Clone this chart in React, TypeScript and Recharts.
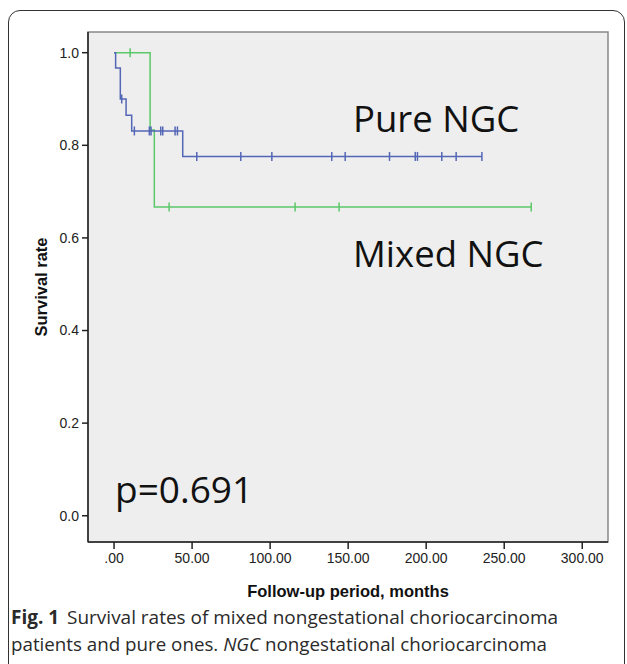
import { ComposedChart, Line, Scatter, XAxis, YAxis, ReferenceArea } from 'recharts';

// Kaplan-Meier steps (months, survival)
const pureTimes = [0, 1, 4, 7.7, 11.3, 44, 235.7];
const pureRates = [1.0, 0.967, 0.9, 0.865, 0.831, 0.776, 0.776];
const pureCensorTimes = [4.9, 13, 22.6, 23.7, 29.9, 31.2, 39.1, 40.6, 53, 81.2, 101.1, 139.5, 148.1, 176.5, 193, 194.4, 210, 219.2, 235.7];
const pureCensorRates = [0.9, 0.831, 0.831, 0.831, 0.831, 0.831, 0.831, 0.831, 0.776, 0.776, 0.776, 0.776, 0.776, 0.776, 0.776, 0.776, 0.776, 0.776, 0.776];

const mixedTimes = [0, 23.1, 25.8, 267.3];
const mixedRates = [1.0, 0.833, 0.667, 0.667];
const mixedCensorTimes = [10.3, 35.3, 116, 144.2, 267.3];
const mixedCensorRates = [1.0, 0.667, 0.667, 0.667, 0.667];

const xTicks = [0, 50, 100, 150, 200, 250, 300];
const yTicks = [0, 0.2, 0.4, 0.6, 0.8, 1.0];

const xDomain = [-16.7, 316.5];
const yDomain = [-0.0567, 1.0447];

const BLUE = '#5466b6';
const GREEN = '#5cc868';

const zip = (ts: number[], rs: number[]) => ts.map((t, i) => ({ t, s: rs[i] }));

const pureData = zip(pureTimes, pureRates);
const pureCensor = zip(pureCensorTimes, pureCensorRates);
const mixedData = zip(mixedTimes, mixedRates);
const mixedCensor = zip(mixedCensorTimes, mixedCensorRates);

const censorMark = (color: string) => (props: any) => {
  const { cx, cy } = props;
  return <line x1={cx} x2={cx} y1={cy - 4.5} y2={cy + 4.5} stroke={color} strokeWidth={1.5} />;
};

const tickStyle = { fill: '#222', fontSize: 14, fontFamily: 'Liberation Sans, Arial, sans-serif' };
const titleStyle = { fill: '#111', fontSize: 16.5, fontWeight: 700, fontFamily: 'Liberation Sans, Arial, sans-serif' };

const App = () => {
  return (
    <div style={{ position: 'fixed', left: 0, top: 0, width: 627, height: 664, background: '#fff', overflow: 'hidden' }}>
      <div style={{
        position: 'absolute', left: 8, top: 10, width: 617, height: 700,
        border: '1px solid #333', borderRadius: 12, boxSizing: 'border-box',
      }} />
      <div style={{ position: 'absolute', left: 0, top: 0 }}>
        <ComposedChart width={627} height={664} margin={{ top: 32, right: 19, bottom: 0, left: 0 }}>
          <ReferenceArea x1={xDomain[0]} x2={xDomain[1]} y1={yDomain[0]} y2={yDomain[1]} fill="#eeeeee" fillOpacity={1} stroke="#888" strokeWidth={1.5} />
          <XAxis
            type="number"
            dataKey="t"
            domain={xDomain}
            ticks={xTicks}
            allowDataOverflow
            height={122}
            tickSize={7}
            tickMargin={4}
            axisLine={{ stroke: '#222', strokeWidth: 1.5 }}
            tickLine={{ stroke: '#222', strokeWidth: 1.5 }}
            tick={tickStyle}
            tickFormatter={(v: number) => (v === 0 ? '.00' : v.toFixed(2))}
            label={{ value: 'Follow-up period, months', position: 'insideTop', offset: 43, style: titleStyle }}
          />
          <YAxis
            type="number"
            dataKey="s"
            domain={yDomain}
            ticks={yTicks}
            allowDataOverflow
            width={88}
            tickSize={6}
            tickMargin={3}
            axisLine={{ stroke: '#222', strokeWidth: 1.5 }}
            tickLine={{ stroke: '#222', strokeWidth: 1.5 }}
            tick={tickStyle}
            tickFormatter={(v: number) => v.toFixed(1)}
            label={{ value: 'Survival rate', angle: -90, position: 'center', dx: -3, style: titleStyle }}
          />
          <Line data={mixedData} dataKey="s" type="stepAfter" stroke={GREEN} strokeWidth={1.5} dot={false} isAnimationActive={false} />
          <Line data={pureData} dataKey="s" type="stepAfter" stroke={BLUE} strokeWidth={1.5} dot={false} isAnimationActive={false} />
          <Scatter data={mixedCensor} dataKey="s" shape={censorMark(GREEN)} isAnimationActive={false} />
          <Scatter data={pureCensor} dataKey="s" shape={censorMark(BLUE)} isAnimationActive={false} />
        </ComposedChart>
      </div>
      <svg width={627} height={664} style={{ position: 'absolute', left: 0, top: 0, pointerEvents: 'none' }}>
        <g fontFamily="Open Sans, Noto Sans, sans-serif" fill="#111">
          <text x={353} y={132} fontSize={36.5}>Pure NGC</text>
          <text x={353} y={267} fontSize={36.5}>Mixed NGC</text>
          <text x={115} y={503} fontSize={37}>p=0.691</text>
        </g>
        <g fontFamily="Open Sans, Noto Sans, sans-serif" fill="#2a2a2a" fontSize={19}>
          <text x={11} y={624} textLength={547} lengthAdjust="spacingAndGlyphs">
            <tspan fontWeight={700}>Fig. 1</tspan>
            <tspan dx={8}>Survival rates of mixed nongestational choriocarcinoma</tspan>
          </text>
          <text x={11} y={651} textLength={536} lengthAdjust="spacingAndGlyphs">
            <tspan>{'patients and pure ones. '}</tspan>
            <tspan fontStyle="italic">NGC</tspan>
            <tspan>{' nongestational choriocarcinoma'}</tspan>
          </text>
        </g>
      </svg>
    </div>
  );
};

export default App;
